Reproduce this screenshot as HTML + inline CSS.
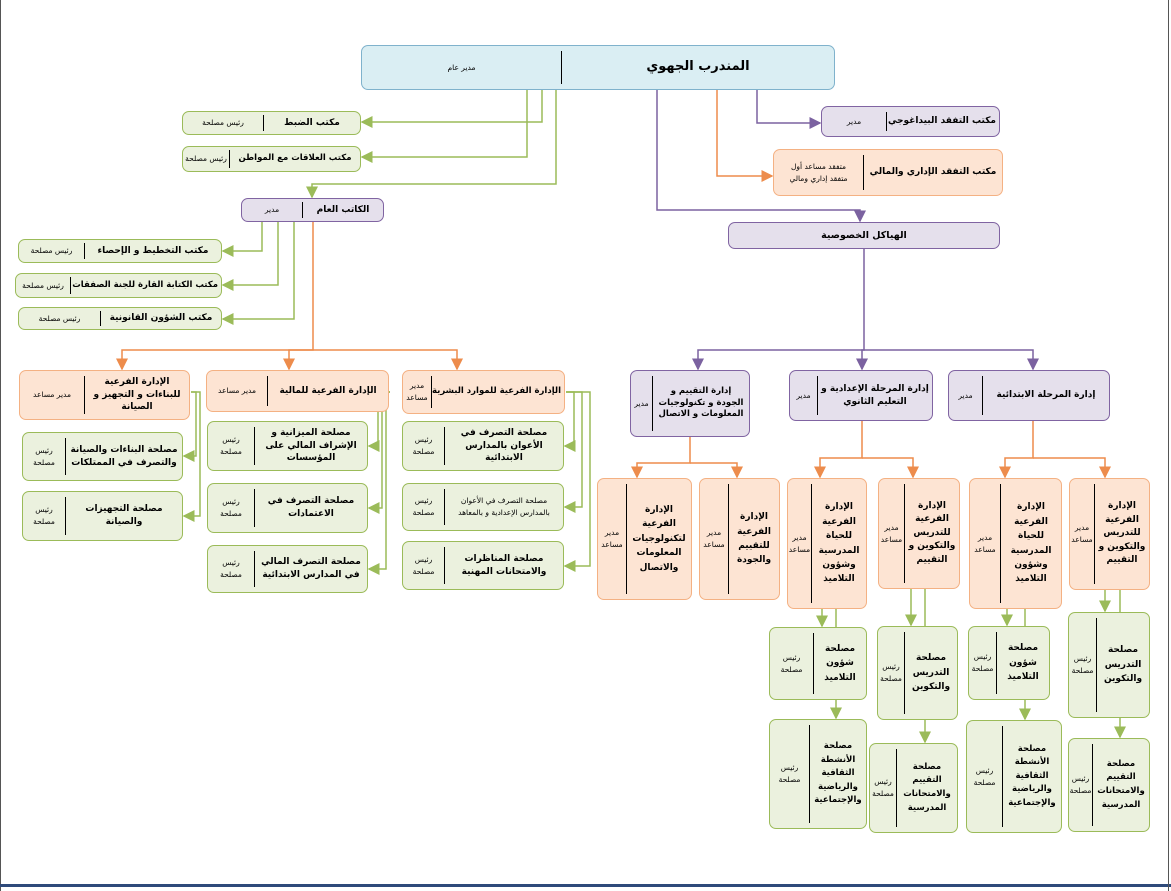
<!DOCTYPE html>
<html><head><meta charset="utf-8">
<style>
body{margin:0;width:1171px;height:891px;background:#fff;position:relative;overflow:hidden;font-family:"DejaVu Sans",sans-serif;}
.b{position:absolute;display:flex;direction:rtl;align-items:center;border-radius:7px;box-sizing:border-box;color:#000}
.t{text-align:center;font-weight:bold;font-size:9.5px;line-height:1.6;padding:0 3px;box-sizing:border-box}
.n{white-space:nowrap;font-size:9px;letter-spacing:-0.2px}
.c{font-size:9px;line-height:1.4}
.s{flex:1;text-align:center;font-size:7.5px;line-height:1.6;border-right:1px solid #000;align-self:stretch;display:flex;align-items:center;justify-content:center;margin:5px 0;white-space:nowrap}
.g{background:#ebf1de;border:1px solid #9bbb59}
.o{background:#fde4d3;border:1px solid #f4b183}
.p{background:#e5e0ec;border:1px solid #8064a2}
.bl{background:#daeef3;border:1px solid #7fb2cc}
svg{position:absolute;left:0;top:0}
</style></head><body>
<div style="position:absolute;left:0;top:0;width:1px;height:891px;background:#555"></div>
<div style="position:absolute;left:0;top:884px;width:1171px;height:3px;background:#2e4a7a"></div>
<div style="position:absolute;left:1168px;top:0;width:1px;height:891px;background:#555"></div>
<svg width="1171" height="891">
<defs>
<marker id="ag" markerWidth="8" markerHeight="8" refX="7" refY="4" orient="auto"><path d="M0,0 L8,4 L0,8 z" fill="#9bbb59"/></marker>
<marker id="ao" markerWidth="8" markerHeight="8" refX="7" refY="4" orient="auto"><path d="M0,0 L8,4 L0,8 z" fill="#ed8c4c"/></marker>
<marker id="ap" markerWidth="8" markerHeight="8" refX="7" refY="4" orient="auto"><path d="M0,0 L8,4 L0,8 z" fill="#7b62a0"/></marker>
</defs>
<g fill="none" stroke-width="1.5">
<g stroke="#9bbb59" marker-end="url(#ag)">
<polyline points="542,90 542,122 362,122"/>
<polyline points="527,90 527,157 362,157"/>
<polyline points="556,90 556,184 312,184 312,197"/>
<polyline points="262,222 262,251 223,251"/>
<polyline points="278,222 278,285 223,285"/>
<polyline points="294,222 294,319 223,319"/>
<polyline points="566,392 574,392 574,446 565,446"/>
<polyline points="566,392 582,392 582,507 565,507"/>
<polyline points="566,392 590,392 590,566 565,566"/>
<polyline points="390,392 378,392 378,446 369,446"/>
<polyline points="390,392 382,392 382,508 369,508"/>
<polyline points="390,392 386,392 386,569 369,569"/>
<polyline points="191,392 196,392 196,456 184,456"/>
<polyline points="191,392 200,392 200,516 184,516"/>
<polyline points="822,609 822,626"/>
<polyline points="836,609 836,700 836,718"/>
<polyline points="911,589 911,625"/>
<polyline points="925,589 925,720 925,742"/>
<polyline points="1007,609 1007,625"/>
<polyline points="1025,609 1025,700 1025,719"/>
<polyline points="1105,590 1105,611"/>
<polyline points="1120,590 1120,718 1120,737"/>
</g>
<g stroke="#7b62a0" marker-end="url(#ap)">
<polyline points="757,90 757,123 820,123"/>
<polyline points="657,90 657,210 860,210 860,221"/>
<polyline points="864,249 864,350 698,350 698,369"/>
<polyline points="864,350 862,350 862,369"/>
<polyline points="864,350 1033,350 1033,369"/>
</g>
<g stroke="#ed8c4c" marker-end="url(#ao)">
<polyline points="717,90 717,176 772,176"/>
<polyline points="313,222 313,350 122,350 122,369"/>
<polyline points="313,350 289,350 289,369"/>
<polyline points="313,350 457,350 457,369"/>
<polyline points="690,437 690,463 637,463 637,477"/>
<polyline points="690,463 737,463 737,477"/>
<polyline points="862,421 862,458 820,458 820,477"/>
<polyline points="862,458 913,458 913,477"/>
<polyline points="1033,421 1033,458 1005,458 1005,477"/>
<polyline points="1033,458 1105,458 1105,477"/>
</g>
</g>
</svg>

<div class="b bl" style="left:361px;top:45px;width:474px;height:45px"><div class="t" style="width:272px;font-size:13px">المندرب الجهوي</div><div class="s">مدير عام</div></div>
<div class="b p" style="left:821px;top:106px;width:179px;height:31px"><div class="t n" style="width:112px">مكتب التفقد البيداغوجي</div><div class="s">مدير</div></div>
<div class="b o" style="left:773px;top:149px;width:230px;height:47px"><div class="t n" style="width:138px">مكتب التفقد الإداري والمالي</div><div class="s">متفقد مساعد أول<br>متفقد إداري ومالي</div></div>
<div class="b p" style="left:728px;top:222px;width:272px;height:27px"><div class="t" style="width:270px">الهياكل الخصوصية</div></div>

<div class="b g" style="left:182px;top:111px;width:179px;height:24px"><div class="t n" style="width:96px">مكتب الضبط</div><div class="s" style="margin:3px 0">رئيس مصلحة</div></div>
<div class="b g" style="left:182px;top:146px;width:179px;height:26px"><div class="t n" style="width:130px;font-size:8.5px">مكتب العلاقات مع المواطن</div><div class="s" style="margin:3px 0">رئيس مصلحة</div></div>
<div class="b p" style="left:241px;top:198px;width:143px;height:24px"><div class="t n" style="width:80px">الكاتب العام</div><div class="s" style="margin:3px 0">مدير</div></div>
<div class="b g" style="left:18px;top:239px;width:204px;height:24px"><div class="t n" style="width:136px">مكتب التخطيط و الإحصاء</div><div class="s" style="margin:3px 0">رئيس مصلحة</div></div>
<div class="b g" style="left:15px;top:273px;width:207px;height:25px"><div class="t n" style="width:150px;font-size:8.5px">مكتب الكتابة القارة للجنة الصفقات</div><div class="s" style="margin:3px 0">رئيس مصلحة</div></div>
<div class="b g" style="left:18px;top:307px;width:204px;height:23px"><div class="t n" style="width:120px">مكتب الشؤون القانونية</div><div class="s" style="margin:3px 0">رئيس مصلحة</div></div>

<div class="b o" style="left:19px;top:370px;width:171px;height:50px"><div class="t c" style="width:104px">الإدارة الفرعية للبناءات و التجهيز و الصيانة</div><div class="s">مدير مساعد</div></div>
<div class="b o" style="left:206px;top:370px;width:183px;height:42px"><div class="t n" style="width:120px">الإدارة الفرعية للمالية</div><div class="s">مدير مساعد</div></div>
<div class="b o" style="left:402px;top:370px;width:163px;height:44px"><div class="t n" style="width:132px;font-size:8.5px">الإدارة الفرعية للموارد البشرية</div><div class="s">مدير<br>مساعد</div></div>

<div class="b g" style="left:22px;top:432px;width:161px;height:49px"><div class="t c" style="width:116px">مصلحة البناءات والصيانة والتصرف في الممتلكات</div><div class="s">رئيس<br>مصلحة</div></div>
<div class="b g" style="left:22px;top:491px;width:161px;height:50px"><div class="t c" style="width:116px">مصلحة التجهيزات والصيانة</div><div class="s">رئيس<br>مصلحة</div></div>
<div class="b g" style="left:207px;top:421px;width:161px;height:50px"><div class="t c" style="width:112px">مصلحة الميزانية و الإشراف المالي على المؤسسات</div><div class="s">رئيس<br>مصلحة</div></div>
<div class="b g" style="left:207px;top:483px;width:161px;height:50px"><div class="t c" style="width:112px">مصلحة التصرف في الاعتمادات</div><div class="s">رئيس<br>مصلحة</div></div>
<div class="b g" style="left:207px;top:545px;width:161px;height:48px"><div class="t c" style="width:112px">مصلحة التصرف المالي في المدارس الابتدائية</div><div class="s">رئيس<br>مصلحة</div></div>
<div class="b g" style="left:402px;top:421px;width:162px;height:50px"><div class="t c" style="width:118px">مصلحة التصرف في الأعوان بالمدارس الابتدائية</div><div class="s">رئيس<br>مصلحة</div></div>
<div class="b g" style="left:402px;top:483px;width:162px;height:48px"><div class="t" style="width:118px;font-weight:normal;font-size:7.5px">مصلحة التصرف في الأعوان بالمدارس الإعدادية و بالمعاهد</div><div class="s">رئيس<br>مصلحة</div></div>
<div class="b g" style="left:402px;top:541px;width:162px;height:49px"><div class="t c" style="width:118px">مصلحة المناظرات والامتحانات المهنية</div><div class="s">رئيس<br>مصلحة</div></div>

<div class="b p" style="left:630px;top:370px;width:120px;height:67px"><div class="t c" style="width:96px;font-size:8.5px">إدارة التقييم و الجودة و تكنولوجيات المعلومات و الاتصال</div><div class="s">مدير</div></div>
<div class="b p" style="left:789px;top:370px;width:144px;height:51px"><div class="t c" style="width:114px">إدارة المرحلة الإعدادية و التعليم الثانوي</div><div class="s">مدير</div></div>
<div class="b p" style="left:948px;top:370px;width:162px;height:51px"><div class="t n" style="width:126px">إدارة المرحلة الابتدائية</div><div class="s">مدير</div></div>

<div class="b o" style="left:597px;top:478px;width:95px;height:122px"><div class="t" style="width:64px;font-size:9px">الإدارة الفرعية لتكنولوجيات المعلومات والاتصال</div><div class="s">مدير<br>مساعد</div></div>
<div class="b o" style="left:699px;top:478px;width:81px;height:122px"><div class="t" style="width:50px;font-size:9px">الإدارة الفرعية للتقييم والجودة</div><div class="s">مدير<br>مساعد</div></div>
<div class="b o" style="left:787px;top:478px;width:80px;height:131px"><div class="t" style="width:54px;font-size:9px">الإدارة الفرعية للحياة المدرسية وشؤون التلاميذ</div><div class="s">مدير<br>مساعد</div></div>
<div class="b o" style="left:878px;top:478px;width:82px;height:111px"><div class="t" style="width:54px;font-size:9px;line-height:1.5">الإدارة الفرعية للتدريس والتكوين و التقييم</div><div class="s">مدير<br>مساعد</div></div>
<div class="b o" style="left:969px;top:478px;width:93px;height:131px"><div class="t" style="width:60px;font-size:9px">الإدارة الفرعية للحياة المدرسية وشؤون التلاميذ</div><div class="s">مدير<br>مساعد</div></div>
<div class="b o" style="left:1069px;top:478px;width:81px;height:112px"><div class="t" style="width:54px;font-size:9px;line-height:1.5">الإدارة الفرعية للتدريس والتكوين و التقييم</div><div class="s">مدير<br>مساعد</div></div>

<div class="b g" style="left:769px;top:627px;width:98px;height:73px"><div class="t" style="width:52px;font-size:9px">مصلحة شؤون التلاميذ</div><div class="s">رئيس<br>مصلحة</div></div>
<div class="b g" style="left:769px;top:719px;width:98px;height:110px"><div class="t" style="width:56px;font-size:8.5px">مصلحة الأنشطة الثقافية والرياضية والإجتماعية</div><div class="s">رئيس<br>مصلحة</div></div>
<div class="b g" style="left:877px;top:626px;width:81px;height:94px"><div class="t" style="width:52px;font-size:9px">مصلحة التدريس والتكوين</div><div class="s">رئيس<br>مصلحة</div></div>
<div class="b g" style="left:869px;top:743px;width:89px;height:90px"><div class="t" style="width:60px;font-size:8.5px">مصلحة التقييم والامتحانات المدرسية</div><div class="s">رئيس<br>مصلحة</div></div>
<div class="b g" style="left:968px;top:626px;width:82px;height:74px"><div class="t" style="width:52px;font-size:9px">مصلحة شؤون التلاميذ</div><div class="s">رئيس<br>مصلحة</div></div>
<div class="b g" style="left:966px;top:720px;width:96px;height:113px"><div class="t" style="width:58px;font-size:8.5px">مصلحة الأنشطة الثقافية والرياضية والإجتماعية</div><div class="s">رئيس<br>مصلحة</div></div>
<div class="b g" style="left:1068px;top:612px;width:82px;height:106px"><div class="t" style="width:52px;font-size:9px">مصلحة التدريس والتكوين</div><div class="s">رئيس<br>مصلحة</div></div>
<div class="b g" style="left:1068px;top:738px;width:82px;height:94px"><div class="t" style="width:56px;font-size:8.5px">مصلحة التقييم والامتحانات المدرسية</div><div class="s">رئيس<br>مصلحة</div></div>
</body></html>
